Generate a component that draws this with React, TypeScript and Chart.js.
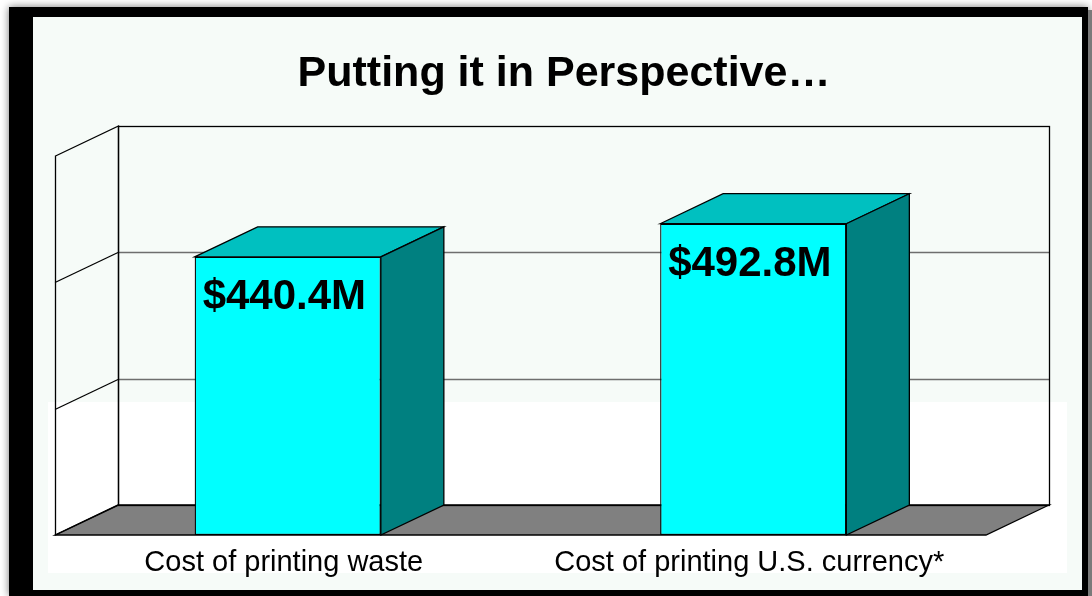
import React, { useEffect, useRef } from "react";
import { Chart, registerables } from "chart.js";

Chart.register(...registerables);

const categories: string[] = ["Cost of printing waste", "Cost of printing U.S. currency*"];
const values: number[] = [440.4, 492.8];
const valueLabels: string[] = ["$440.4M", "$492.8M"];
const titleText = "Putting it in Perspective…";
const yMin = 0;
const yMax = 600;
const yStep = 200;

const DX = 63;
const DY = -30;

const framePlugin = {
  id: "frame3d",
  beforeDraw(chart: any) {
    const ctx = chart.ctx as CanvasRenderingContext2D;
    const W = chart.width;
    const H = chart.height;
    ctx.save();
    ctx.fillStyle = "#ffffff";
    ctx.fillRect(0, 0, W, H);
    ctx.shadowColor = "rgba(0,0,0,0.55)";
    ctx.shadowBlur = 8;
    ctx.fillStyle = "#000000";
    ctx.fillRect(9, 7, 1079, H - 7);
    ctx.shadowBlur = 0;
    ctx.shadowColor = "transparent";
    ctx.fillStyle = "#7a7a7a";
    ctx.fillRect(1088, 10, W - 1088, H - 10);
    ctx.fillStyle = "rgb(246,251,248)";
    ctx.fillRect(33, 17, 1082 - 33, 590 - 17);
    ctx.fillStyle = "#ffffff";
    ctx.fillRect(48, 402, 1067 - 48, 573 - 402);
    ctx.fillStyle = "#000000";
    ctx.font = "bold 43px Arial, 'Liberation Sans', sans-serif";
    ctx.textAlign = "center";
    ctx.textBaseline = "middle";
    ctx.fillText(titleText, 564, 74);
    ctx.restore();
  },
  beforeDatasetsDraw(chart: any) {
    const ctx = chart.ctx as CanvasRenderingContext2D;
    const a = chart.chartArea;
    const ys = chart.scales.y;
    const L = a.left, R = a.right, T = a.top, B = a.bottom;
    ctx.save();
    ctx.lineWidth = 1.3;
    ctx.beginPath();
    ctx.moveTo(L, B);
    ctx.lineTo(L + DX, B + DY);
    ctx.lineTo(R + DX, B + DY);
    ctx.lineTo(R, B);
    ctx.closePath();
    ctx.fillStyle = "#808080";
    ctx.fill();
    ctx.strokeStyle = "#000000";
    ctx.stroke();
    for (let v = yMin + yStep; v < yMax; v += yStep) {
      const py = Math.round(ys.getPixelForValue(v)) + 0.5;
      ctx.strokeStyle = "#6e6e6e";
      ctx.beginPath();
      ctx.moveTo(L + DX, py + DY);
      ctx.lineTo(R + DX, py + DY);
      ctx.stroke();
      ctx.strokeStyle = "#000000";
      ctx.beginPath();
      ctx.moveTo(L, py);
      ctx.lineTo(L + DX, py + DY);
      ctx.stroke();
    }
    ctx.strokeStyle = "#000000";
    ctx.strokeRect(Math.round(L + DX) + 0.5, Math.round(T + DY) + 0.5, R - L, B - T);
    ctx.beginPath();
    ctx.moveTo(L + 0.5, T);
    ctx.lineTo(L + DX + 0.5, T + DY);
    ctx.lineTo(L + DX + 0.5, B + DY);
    ctx.lineTo(L + 0.5, B);
    ctx.closePath();
    ctx.stroke();
    ctx.restore();
  },
  afterDatasetsDraw(chart: any) {
    const ctx = chart.ctx as CanvasRenderingContext2D;
    const meta = chart.getDatasetMeta(0);
    ctx.save();
    ctx.lineWidth = 1.3;
    ctx.strokeStyle = "#000000";
    meta.data.forEach((bar: any, i: number) => {
      const left = bar.x - bar.width / 2;
      const right = bar.x + bar.width / 2;
      const top = bar.y;
      const base = bar.base;
      ctx.beginPath();
      ctx.moveTo(left, top);
      ctx.lineTo(left + DX, top + DY);
      ctx.lineTo(right + DX, top + DY);
      ctx.lineTo(right, top);
      ctx.closePath();
      ctx.fillStyle = "#00c0c0";
      ctx.fill();
      ctx.stroke();
      ctx.beginPath();
      ctx.moveTo(right, top);
      ctx.lineTo(right + DX, top + DY);
      ctx.lineTo(right + DX, base + DY);
      ctx.lineTo(right, base);
      ctx.closePath();
      ctx.fillStyle = "#008080";
      ctx.fill();
      ctx.stroke();
      ctx.fillStyle = "#000000";
      ctx.font = "bold 42px Arial, 'Liberation Sans', sans-serif";
      ctx.textAlign = "left";
      ctx.textBaseline = "middle";
      ctx.fillText(valueLabels[i], left + 8, top + 41);
    });
    ctx.restore();
  },
};

export default function App() {
  const ref = useRef<HTMLCanvasElement | null>(null);
  useEffect(() => {
    if (!ref.current) return;
    const chart = new Chart(ref.current, {
      type: "bar",
      data: {
        labels: categories,
        datasets: [
          {
            data: values,
            backgroundColor: "#00ffff",
            borderColor: "#000000",
            borderWidth: 1.3,
            borderSkipped: false,
            categoryPercentage: 1,
            barPercentage: 0.4,
          },
        ],
      },
      options: {
        animation: false,
        responsive: false,
        devicePixelRatio: 1,
        layout: { padding: { left: 55, right: 106, top: 156, bottom: 0 } },
        plugins: {
          legend: { display: false },
          title: { display: false },
          tooltip: { enabled: false },
        },
        scales: {
          x: {
            grid: { display: false, drawTicks: false },
            border: { display: false },
            ticks: {
              color: "#000000",
              padding: 11,
              labelOffset: -4,
              maxRotation: 0,
              font: { family: "Arial, 'Liberation Sans', sans-serif", size: 29 },
            },
            afterFit: (s: any) => {
              s.height = 61;
            },
          },
          y: {
            display: false,
            min: yMin,
            max: yMax,
            ticks: { stepSize: yStep },
          },
        },
      },
      plugins: [framePlugin],
    });
    return () => chart.destroy();
  }, []);
  return (
    <div style={{ position: "absolute", left: 0, top: 0, width: 1092, height: 596 }}>
      <canvas ref={ref} width={1092} height={596} />
    </div>
  );
}
